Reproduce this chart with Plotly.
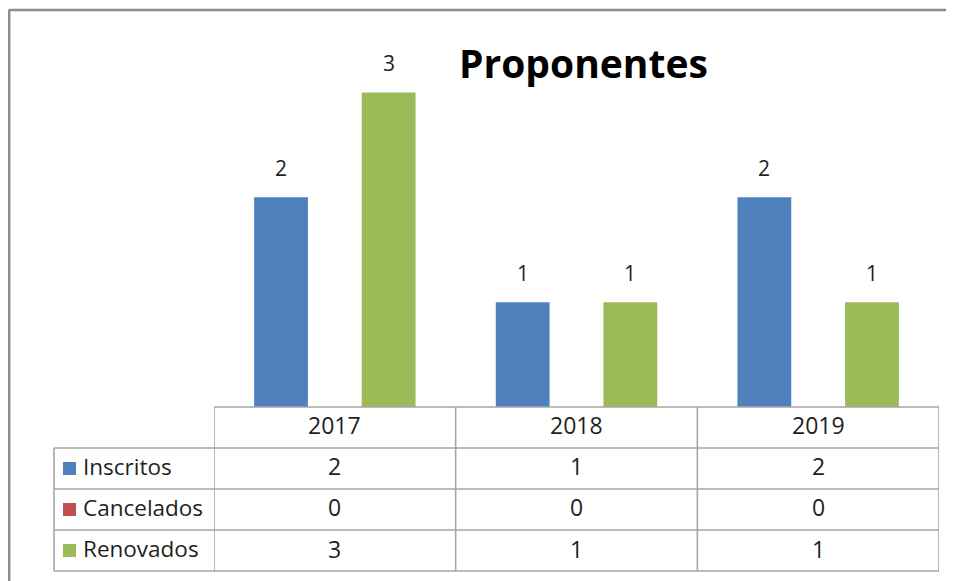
import plotly.graph_objects as go

# ---- data ----
categories = ["2017", "2018", "2019"]
series_names = ["Inscritos", "Cancelados", "Renovados"]
inscritos = [2, 1, 2]
cancelados = [0, 0, 0]
renovados = [3, 1, 1]
title_text = "Proponentes"

series_values = [inscritos, cancelados, renovados]
colors = ["#4F81BD", "#C0504D", "#9BBB59"]

# the page body has an 8px margin: the figure is drawn at (8, 8) in the window
OFF = 8
W, H = 954, 581
PLOT_L, PLOT_R, PLOT_T, PLOT_B = 214, 939, 40, 407   # window pixels
ML = PLOT_L - OFF
MR = W - (PLOT_R - OFF)
MT = PLOT_T - OFF
MB = H - (PLOT_B - OFF)
PW = W - ML - MR
PH = H - MT - MB
BARGAP = 0.332
FONT = "Open Sans"
TXT = "#1f1f1f"
GRID = "#A6A6A6"


def px(xp):
    # xp is given in window pixels
    return (xp - OFF - ML) / PW


def py(yp):
    return (H - MB - (yp - OFF)) / PH


fig = go.Figure()
for name, vals, col in zip(series_names, series_values, colors):
    fig.add_trace(go.Bar(
        x=list(range(len(categories))), y=vals, name=name,
        marker=dict(color=col, line=dict(width=0)),
        hoverinfo="x+y+name",
    ))

shapes = []
annotations = []

# outer chart border (top and left visible)
shapes.append(dict(type="line", xref="paper", yref="paper",
                   x0=px(8.5), x1=px(970), y0=py(10), y1=py(10),
                   line=dict(color="#8C8C8C", width=2.5)))
shapes.append(dict(type="line", xref="paper", yref="paper",
                   x0=px(9.2), x1=px(9.2), y0=py(10), y1=py(600),
                   line=dict(color="#8C8C8C", width=2.5)))

# data table geometry (window pixels)
row_h = 41
header_top = PLOT_B
rows_top = header_top + row_h
table_bottom = rows_top + row_h * len(series_names)
left_x = 54
TEXT_LIFT = 2

line_style = dict(color=GRID, width=1.6)
shapes.append(dict(type="line", xref="paper", yref="paper",
                   x0=0, x1=1, y0=py(header_top), y1=py(header_top), line=line_style))
for k in range(len(series_names) + 1):
    yy = rows_top + k * row_h
    shapes.append(dict(type="line", xref="paper", yref="paper",
                       x0=px(left_x), x1=1, y0=py(yy), y1=py(yy), line=line_style))
shapes.append(dict(type="line", xref="paper", yref="paper",
                   x0=px(left_x), x1=px(left_x), y0=py(rows_top), y1=py(table_bottom),
                   line=line_style))
for b in [-0.5 + i for i in range(len(categories) + 1)]:
    shapes.append(dict(type="line", xref="x", yref="paper",
                       x0=b, x1=b, y0=py(header_top), y1=py(table_bottom),
                       line=line_style))

# header texts
for i, c in enumerate(categories):
    annotations.append(dict(xref="x", yref="paper", x=i,
                            y=py(header_top + row_h / 2 - TEXT_LIFT),
                            text=c, showarrow=False, xanchor="center", yanchor="middle",
                            font=dict(family=FONT, size=23, color=TXT)))

# rows
for r, (name, vals, col) in enumerate(zip(series_names, series_values, colors)):
    cy = rows_top + r * row_h + row_h / 2
    shapes.append(dict(type="rect", xref="paper", yref="paper",
                       x0=px(63), x1=px(76), y0=py(cy - 6.5), y1=py(cy + 6.5),
                       line=dict(width=0), fillcolor=col))
    annotations.append(dict(xref="paper", yref="paper", x=px(81), y=py(cy - TEXT_LIFT),
                            text=name, showarrow=False, xanchor="left", yanchor="middle",
                            font=dict(family=FONT, size=22.5, color=TXT)))
    for i, v in enumerate(vals):
        annotations.append(dict(xref="x", yref="paper", x=i, y=py(cy - TEXT_LIFT),
                                text=str(v), showarrow=False, xanchor="center",
                                yanchor="middle",
                                font=dict(family=FONT, size=23, color=TXT)))

# data labels above bars
slot = (1 - BARGAP) / len(series_names)
for j, vals in enumerate(series_values):
    off = (j - (len(series_names) - 1) / 2) * slot
    for i, v in enumerate(vals):
        if v == 0:
            continue
        annotations.append(dict(xref="x", yref="y", x=i + off, y=v, text=str(v),
                                showarrow=False, xanchor="center", yanchor="middle",
                                yshift=29,
                                font=dict(family=FONT, size=21, color=TXT)))

# title
annotations.append(dict(xref="paper", yref="paper", x=px(583), y=py(62),
                        text="<b>" + title_text + "</b>", showarrow=False,
                        xanchor="center", yanchor="middle",
                        font=dict(family=FONT, size=39, color="#000000")))

fig.update_layout(
    width=W, height=H,
    margin=dict(l=ML, r=MR, t=MT, b=MB, pad=0),
    paper_bgcolor="white", plot_bgcolor="white",
    barmode="group", bargap=BARGAP, bargroupgap=0,
    showlegend=False,
    xaxis=dict(range=[-0.5, len(categories) - 0.5], showticklabels=False,
               showgrid=False, zeroline=False, showline=False, fixedrange=True),
    yaxis=dict(range=[0, 3.5], showticklabels=False, showgrid=False,
               zeroline=False, showline=False, fixedrange=True),
    shapes=shapes, annotations=annotations,
)

fig.write_html("out.html", config={"displayModeBar": False})
